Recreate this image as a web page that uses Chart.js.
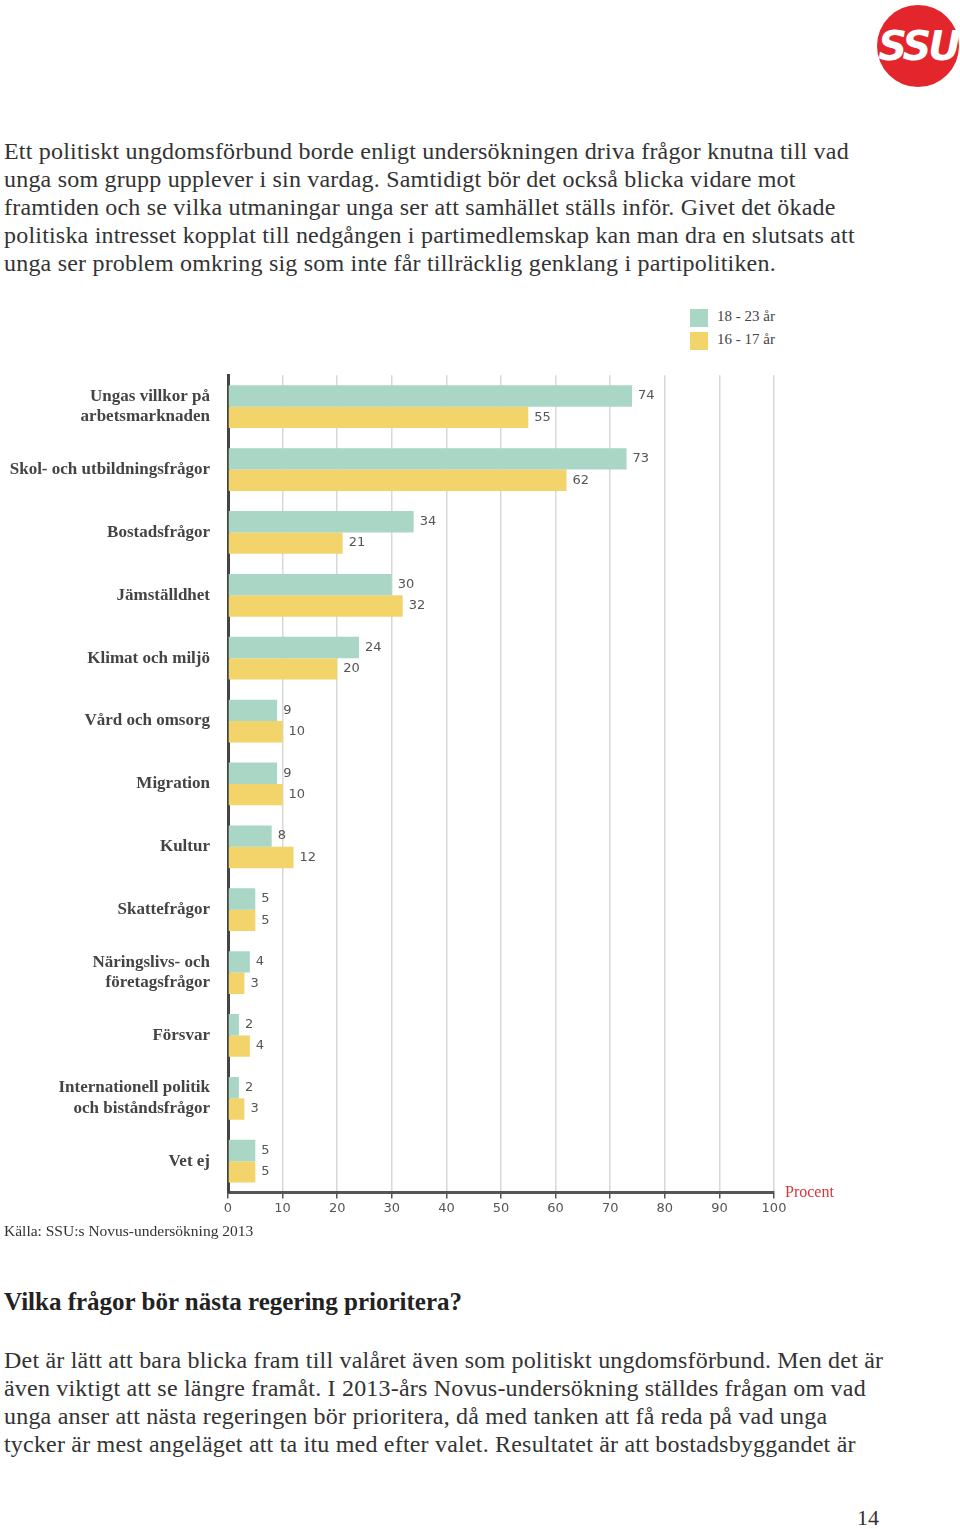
<!DOCTYPE html>
<html>
<head>
<meta charset="utf-8">
<script src="https://cdn.jsdelivr.net/npm/chart.js@4"></script>
<style>
  body { margin: 0; width: 960px; height: 1529px; background: #fff; position: relative; overflow: hidden;
         font-family: "Liberation Serif", "DejaVu Serif", serif; color: #333; }
  .abs { position: absolute; }
  .para { left: 4px; font-size: 24px; letter-spacing: 0.2px; line-height: 28px; white-space: pre; color: #333; }
  #logo { left: 877px; top: 5px; width: 82px; height: 82px; border-radius: 50%; background: #e3262b;
          color: #fff; font: italic bold 40px "DejaVu Sans", sans-serif; text-align: center; line-height: 82px; letter-spacing: -3px; }
  .legend { left: 690px; font-size: 15px; color: #444; }
  .legend span { display: inline-block; width: 18px; height: 18px; vertical-align: middle; margin-right: 9px; }
  #chartBox { left: 0; top: 355px; width: 960px; height: 868px; }
</style>
</head>
<body>
<div id="logo" class="abs">SSU</div>

<div class="abs para" style="top:137px">Ett politiskt ungdomsförbund borde enligt undersökningen driva frågor knutna till vad
unga som grupp upplever i sin vardag. Samtidigt bör det också blicka vidare mot
framtiden och se vilka utmaningar unga ser att samhället ställs inför. Givet det ökade
politiska intresset kopplat till nedgången i partimedlemskap kan man dra en slutsats att
unga ser problem omkring sig som inte får tillräcklig genklang i partipolitiken.</div>

<div class="abs legend" style="top:308px"><span style="background:#a9d6c5"></span>18 - 23 år</div>
<div class="abs legend" style="top:331px"><span style="background:#f2d46b"></span>16 - 17 år</div>

<div id="chartBox" class="abs"><canvas id="chart"></canvas></div>

<div class="abs" style="left:4px; top:1222px; font-size:15.5px; color:#333">Källa: SSU:s Novus-undersökning 2013</div>
<div class="abs" style="left:4px; top:1288px; font-size:25px; font-weight:bold; color:#222">Vilka frågor bör nästa regering prioritera?</div>
<div class="abs para" style="top:1346px">Det är lätt att bara blicka fram till valåret även som politiskt ungdomsförbund. Men det är
även viktigt att se längre framåt. I 2013-års Novus-undersökning ställdes frågan om vad
unga anser att nästa regeringen bör prioritera, då med tanken att få reda på vad unga
tycker är mest angeläget att ta itu med efter valet. Resultatet är att bostadsbyggandet är</div>
<div class="abs" style="left:857px; top:1505px; font-size:22px; color:#333">14</div>

<script>
// Categories and values
const categories = [
  ["Ungas villkor på", "arbetsmarknaden"],
  "Skol- och utbildningsfrågor",
  "Bostadsfrågor",
  "Jämställdhet",
  "Klimat och miljö",
  "Vård och omsorg",
  "Migration",
  "Kultur",
  "Skattefrågor",
  ["Näringslivs- och", "företagsfrågor"],
  "Försvar",
  ["Internationell politik", "och biståndsfrågor"],
  "Vet ej"
];
const age18to23 = [74, 73, 34, 30, 24, 9, 9, 8, 5, 4, 2, 2, 5];
const age16to17 = [55, 62, 21, 32, 20, 10, 10, 12, 5, 3, 4, 3, 5];
const xTicks = [0, 10, 20, 30, 40, 50, 60, 70, 80, 90, 100];

// value labels at the end of every bar + "Procent" axis note
const valueLabels = {
  id: "valueLabels",
  afterDatasetsDraw(chart) {
    const ctx = chart.ctx;
    ctx.save();
    ctx.font = "13px 'DejaVu Sans', sans-serif";
    ctx.fillStyle = "#555";
    ctx.textBaseline = "middle";
    chart.data.datasets.forEach((ds, i) => {
      chart.getDatasetMeta(i).data.forEach((bar, j) => {
        ctx.fillText(ds.data[j], bar.x + 6, bar.y);
      });
    });
    const area = chart.chartArea;
    ctx.font = "16px 'Liberation Serif', serif";
    ctx.fillStyle = "#d9353a";
    ctx.fillText("Procent", area.right + 11, area.bottom);
    ctx.restore();
  }
};

new Chart(document.getElementById("chart"), {
  type: "bar",
  data: {
    labels: categories,
    datasets: [
      { label: "18 - 23 år", data: age18to23, backgroundColor: "#a9d6c5" },
      { label: "16 - 17 år", data: age16to17, backgroundColor: "#f2d46b" }
    ]
  },
  options: {
    indexAxis: "y",
    responsive: true,
    maintainAspectRatio: false,
    animation: false,
    layout: { padding: { top: 15, right: 186, bottom: 0, left: 0 } },
    datasets: { bar: { categoryPercentage: 0.68, barPercentage: 1 } },
    plugins: { legend: { display: false }, tooltip: { enabled: false } },
    scales: {
      x: {
        min: 0, max: 100,
        afterBuildTicks: s => { s.ticks = xTicks.map(v => ({ value: v })); },
        afterFit: s => { s.height = 30; },
        grid: { color: "#d8d8d8", lineWidth: 1.5, tickLength: 6, tickColor: "#555" },
        border: { color: "#555", width: 3 },
        ticks: { color: "#555", font: { family: "DejaVu Sans", size: 13 }, padding: 2 }
      },
      y: {
        afterFit: s => { s.width = 228; },
        grid: { display: false },
        border: { color: "#444", width: 3 },
        ticks: { color: "#444", font: { family: "Liberation Serif", size: 17, weight: "bold" }, padding: 10 }
      }
    }
  },
  plugins: [valueLabels]
});
</script>
</body>
</html>
